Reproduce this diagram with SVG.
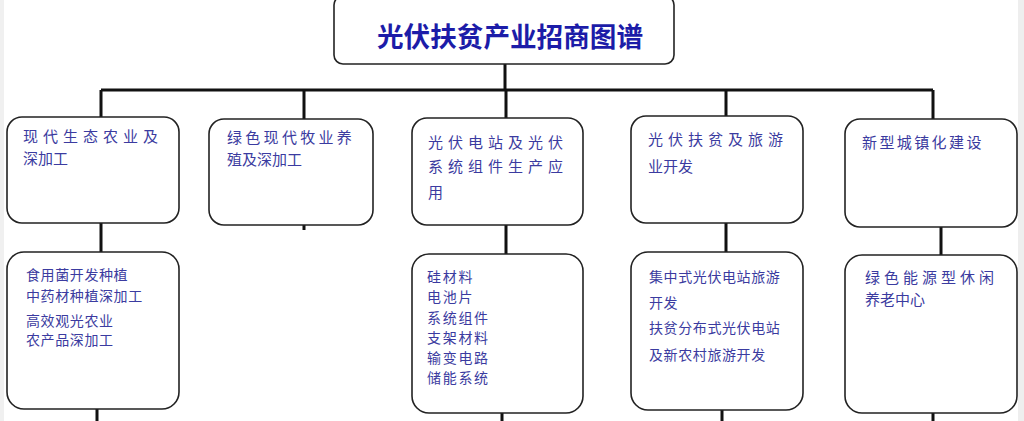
<svg xmlns="http://www.w3.org/2000/svg" width="1024" height="421" viewBox="0 0 1024 421">
<style>
.box{fill:#fff;stroke:#222;stroke-width:1.6}
.con{stroke:#111;stroke-width:3;fill:none}
.t{font-family:"Noto Sans CJK SC","Noto Sans",sans-serif;fill:#3b3ba0}
.l1{font-size:15px;letter-spacing:5px}
.l2{font-size:14px;letter-spacing:0.6px}
.title{font-family:"Noto Sans CJK SC","Noto Sans",sans-serif;font-size:27px;font-weight:bold;fill:#1c1ca8}
</style>
<rect x="0" y="0" width="1024" height="421" fill="#fff"/>
<rect x="0" y="0" width="4" height="421" fill="#f0f0f0"/>
<rect x="1018" y="0" width="6" height="421" fill="#eeeeee"/>
<g id="connectors">
<path class="con" d="M505 64V90M101 90H933"/>
<path class="con" d="M101 90V117M304 90V119M506 90V118M726 90V116M933 90V119"/>
<path class="con" d="M304 225V230"/>
<path class="con" d="M101 223V252M506 225V254M726 223V252M941 227V255"/>
<path class="con" d="M97 409V421M502 413V421M722 410V421M933 413V421"/>
</g>
<g id="title">
<rect class="box" x="334" y="-4" width="340" height="68" rx="9"/>
<text class="title" x="377" y="47" textLength="266" lengthAdjust="spacingAndGlyphs">光伏扶贫产业招商图谱</text>
</g>
<g id="n1">
<rect class="box" x="7" y="117" width="172" height="106" rx="15"/>
<text class="t l1" x="23" y="142">现代生态农业及</text>
<text class="t l1" x="23" y="164" style="letter-spacing:0">深加工</text>
</g>
<g id="n2">
<rect class="box" x="209" y="119" width="164" height="106" rx="15"/>
<text class="t l1" x="227" y="143" style="letter-spacing:3.3px">绿色现代牧业养</text>
<text class="t l1" x="227" y="165" style="letter-spacing:0">殖及深加工</text>
</g>
<g id="n3">
<rect class="box" x="412" y="118" width="171" height="107" rx="15"/>
<text class="t l1" x="428" y="148">光伏电站及光伏</text>
<text class="t l1" x="428" y="172">系统组件生产应</text>
<text class="t l1" x="428" y="198">用</text>
</g>
<g id="n4">
<rect class="box" x="631" y="116" width="172" height="107" rx="15"/>
<text class="t l1" x="648" y="145">光伏扶贫及旅游</text>
<text class="t l1" x="648" y="172" style="letter-spacing:0">业开发</text>
</g>
<g id="n5">
<rect class="box" x="845" y="119" width="172" height="108" rx="15"/>
<text class="t l1" x="862" y="148" style="letter-spacing:2.4px">新型城镇化建设</text>
</g>
<g id="n6">
<rect class="box" x="7" y="252" width="172" height="157" rx="17"/>
<text class="t l2" x="26" y="280">食用菌开发种植</text>
<text class="t l2" x="26" y="301">中药材种植深加工</text>
<text class="t l2" x="26" y="326">高效观光农业</text>
<text class="t l2" x="26" y="345">农产品深加工</text>
</g>
<g id="n7">
<rect class="box" x="412" y="254" width="171" height="159" rx="17"/>
<text class="t l2" x="427" y="282" style="letter-spacing:1.7px">硅材料</text>
<text class="t l2" x="427" y="302" style="letter-spacing:1.7px">电池片</text>
<text class="t l2" x="427" y="323" style="letter-spacing:1.7px">系统组件</text>
<text class="t l2" x="427" y="343" style="letter-spacing:1.7px">支架材料</text>
<text class="t l2" x="427" y="363" style="letter-spacing:1.7px">输变电路</text>
<text class="t l2" x="427" y="383" style="letter-spacing:1.7px">储能系统</text>
</g>
<g id="n8">
<rect class="box" x="631" y="252" width="172" height="158" rx="17"/>
<text class="t l2" x="649" y="282">集中式光伏电站旅游</text>
<text class="t l2" x="649" y="308">开发</text>
<text class="t l2" x="649" y="333">扶贫分布式光伏电站</text>
<text class="t l2" x="649" y="360">及新农村旅游开发</text>
</g>
<g id="n9">
<rect class="box" x="845" y="255" width="172" height="158" rx="17"/>
<text class="t l1" x="865" y="283" style="letter-spacing:4px">绿色能源型休闲</text>
<text class="t l1" x="865" y="305" style="letter-spacing:0">养老中心</text>
</g>
</svg>
